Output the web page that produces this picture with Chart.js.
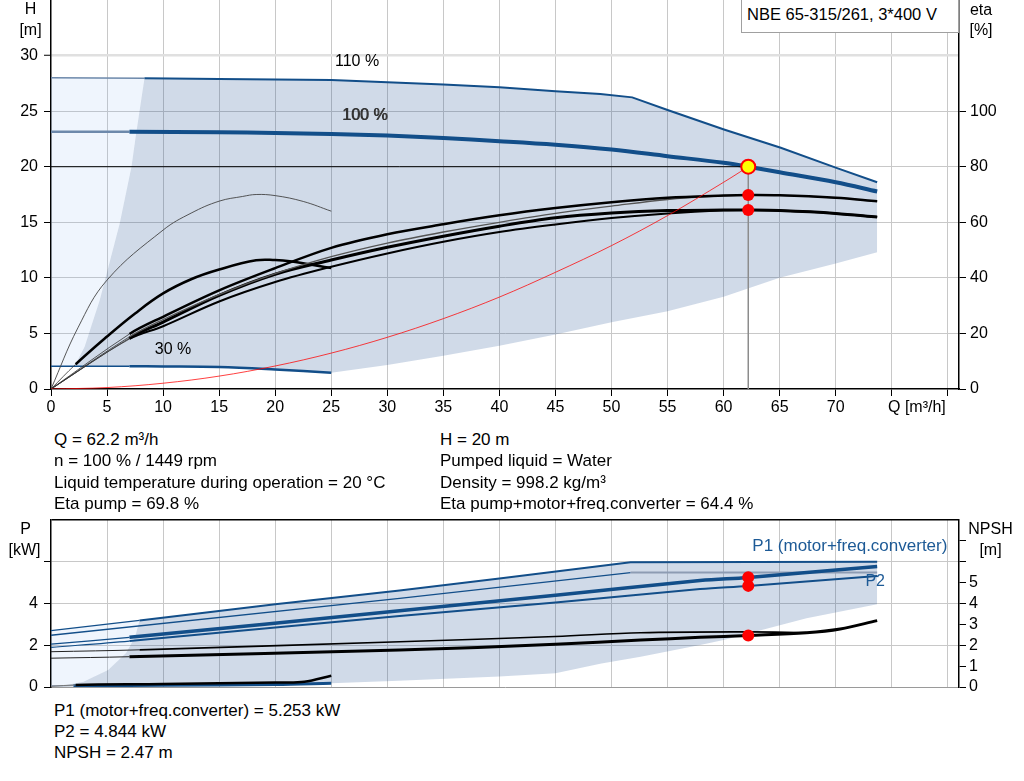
<!DOCTYPE html>
<html>
<head>
<meta charset="utf-8">
<script src="https://cdn.jsdelivr.net/npm/chart.js@4.4.1/dist/chart.umd.min.js"></script>
<style>
  body { margin: 0; background: #fff; width: 1024px; height: 781px; position: relative; overflow: hidden;
         font-family: 'Liberation Sans', Arial, sans-serif; color: #000; }
  canvas { position: absolute; left: 0; }
  #top { top: 0; }
  #bottom { top: 500px; }
  .t { position: absolute; white-space: nowrap; line-height: 20px; font-size: 16px; }
  .info { font-size: 17px; }
  #box { position: absolute; left: 741px; top: -1px; width: 218px; height: 34px; border: 1px solid #a0a0a0;
         background: #fff; box-sizing: border-box; }
</style>
</head>
<body>
<canvas id="top" width="1024" height="425"></canvas>
<canvas id="bottom" width="1024" height="200"></canvas>

<div id="box"></div>
<div class="t" style="left:747px;top:4px;font-size:16.5px">NBE 65-315/261, 3*400 V</div>

<div class="t" style="left:10px;top:-1px;width:41px;text-align:center">H</div>
<div class="t" style="left:10px;top:20px;width:41px;text-align:center">[m]</div>
<div class="t" style="left:961px;top:0px;width:40px;text-align:center">eta</div>
<div class="t" style="left:961px;top:20px;width:40px;text-align:center">[%]</div>
<div class="t" style="left:888px;top:397px">Q [m³/h]</div>

<div class="t" style="left:5px;top:519px;width:41px;text-align:center">P</div>
<div class="t" style="left:4px;top:540px;width:41px;text-align:center">[kW]</div>
<div class="t" style="left:965px;top:519px;width:51px;text-align:center">NPSH</div>
<div class="t" style="left:965px;top:540px;width:51px;text-align:center">[m]</div>

<div class="t info" style="left:54px;top:430px">Q = 62.2 m³/h</div>
<div class="t info" style="left:54px;top:451px">n = 100 % / 1449 rpm</div>
<div class="t info" style="left:54px;top:473px">Liquid temperature during operation = 20 °C</div>
<div class="t info" style="left:54px;top:494px">Eta pump = 69.8 %</div>
<div class="t info" style="left:440px;top:430px">H = 20 m</div>
<div class="t info" style="left:440px;top:451px">Pumped liquid = Water</div>
<div class="t info" style="left:440px;top:473px">Density = 998.2 kg/m³</div>
<div class="t info" style="left:440px;top:494px">Eta pump+motor+freq.converter = 64.4 %</div>

<div class="t info" style="left:54px;top:701px">P1 (motor+freq.converter) = 5.253 kW</div>
<div class="t info" style="left:54px;top:722px">P2 = 4.844 kW</div>
<div class="t info" style="left:54px;top:743px">NPSH = 2.47 m</div>

<script>
// ---- head curves, H [m] ----
const q110 = [0, 8.34, 15, 20, 25, 30, 35, 40, 45, 49, 51.85, 55, 60.1, 65.1, 70.06, 73.7];
const h110 = [28.0, 27.95, 27.9, 27.85, 27.8, 27.6, 27.4, 27.15, 26.8, 26.55, 26.24, 25.1, 23.33, 21.7, 19.9, 18.6];
const q100 = [0, 7, 15, 20, 25, 30, 35, 40, 45, 50, 55, 60, 62.2, 65, 70, 73.7];
const h100 = [23.15, 23.15, 23.1, 23.03, 22.95, 22.8, 22.58, 22.3, 21.98, 21.55, 20.95, 20.35, 20.0, 19.5, 18.6, 17.77];
const q30 = [0, 7, 10, 15, 20, 25];
const h30 = [2.05, 2.05, 2.03, 1.97, 1.75, 1.47];

// system curve
const qSys = [0, 5, 10, 15, 20, 25, 30, 35, 40, 45, 50, 55, 60, 62.2];
const hSys = [0, 0.13, 0.52, 1.16, 2.07, 3.23, 4.65, 6.33, 8.27, 10.5, 12.9, 15.6, 18.6, 20];

// operating range outline (H chart)
const qEnvLeft = [2.1, 3.0, 4.35, 6.13, 7.18, 7.6, 8.34];
const hEnvLeft = [2.05, 3.8, 8.0, 14.9, 20.0, 23.0, 27.95];
const qEnvLow = [25, 30, 35, 40, 45, 50, 55, 60, 65, 70, 73.7];
const hEnvLow = [1.47, 2.15, 3.0, 3.9, 4.9, 6.0, 7.0, 8.3, 10.0, 11.3, 12.3];

// efficiency curves, eta [%]
const qEta = [0, 7, 10, 15, 20, 25, 30, 35, 40, 45, 50, 55, 60, 62.2, 65, 70, 73.7];
const etaPump100 = [0, 19.8, 26.0, 35.5, 43.5, 50.8, 55.7, 59.3, 62.5, 65.1, 67.2, 68.8, 69.6, 69.8, 69.7, 68.8, 67.6];
const etaPump110 = [0, 18.8, 25.0, 34.0, 41.5, 47.6, 52.5, 56.5, 60.0, 63.2, 65.8, 68.2, 69.5, 69.8, 69.7, 68.8, 67.6];
const etaTotal100 = [0, 18.3, 24.1, 33.7, 41.3, 46.4, 51.0, 55.0, 58.6, 61.6, 63.3, 64.2, 64.4, 64.4, 64.2, 63.2, 61.9];
const etaTotal110 = [0, 18.0, 22.6, 31.5, 38.5, 44.0, 48.8, 53.0, 56.5, 59.2, 61.5, 63.2, 64.3, 64.4, 64.2, 63.2, 61.9];
const qEtaPump30 = [0, 2.4, 5, 10, 12.5, 15, 17.1, 18.3, 20, 22.5, 25];
const etaPump30 = [0, 22, 39.2, 57.2, 63.3, 67.6, 69.3, 70, 69.6, 67.5, 64];
const qEtaTotal30 = [0, 2.2, 5, 7.5, 10, 12.5, 15, 18.3, 20, 21.3, 25];
const etaTotal30 = [0, 8.9, 18.9, 27.2, 34.4, 39.5, 43.0, 46.3, 46.4, 46.0, 43.5];

// duty point
const qDuty = 62.2;
const hDuty = 20;
const etaPumpDuty = 69.8;
const etaTotalDuty = 64.4;
const p1Duty = 5.253;
const p2Duty = 4.844;
const npshDuty = 2.47;

// ---- power curves, P [kW] ----
const qP1_110 = [0, 7.9, 20, 31.1, 40, 51.7, 73.7];
const p1_110 = [2.70, 3.19, 3.96, 4.62, 5.2, 5.98, 6.0];
const qP2_110 = [0, 31.1, 51.7, 73.7];
const p2_110 = [2.48, 4.25, 5.48, 5.48];
const qP100 = [0, 7, 31.1, 45, 57.9, 62.2, 73.7];
const p1_100 = [2.05, 2.38, 3.65, 4.4, 5.10, 5.25, 5.77];
const p2_100 = [1.90, 2.2, 3.40, 4.05, 4.69, 4.84, 5.32];
const qP30 = [0, 2, 10, 20, 25];
const p30 = [0.05, 0.06, 0.08, 0.12, 0.18];

// NPSH [m]
const qNpsh100 = [0, 7, 31.1, 45, 52.6, 57.9, 62.2, 67.4, 70.4, 73.7];
const npsh100 = [1.38, 1.45, 1.77, 2.05, 2.25, 2.38, 2.47, 2.60, 2.78, 3.18];
const qNpsh110 = [0, 7.9, 31.1, 45, 52.6, 62.2, 67.4];
const npsh110 = [1.69, 1.78, 2.17, 2.42, 2.6, 2.64, 2.61];
const qNpsh30 = [0, 2.2, 10, 20, 22.6, 25];
const npsh30 = [0.03, 0.1, 0.14, 0.22, 0.25, 0.54];

// operating range outline (P chart)
const qPEnvLeft = [0.9, 2.9, 5.1, 6.7, 7.5, 7.9];
const pPEnvLeft = [0.05, 0.25, 0.82, 1.63, 2.4, 3.19];
const qPEnvLow = [25, 31, 40, 45, 49.1, 52.6, 57.9, 60, 67.4, 73.7];
const pPEnvLow = [0.18, 0.3, 0.5, 0.66, 1.13, 1.45, 2.01, 2.25, 3.29, 3.97];

const qMax = 81;

const BLUE = '#124e89';
const BLUE_THIN = '#6d89ab';
const RANGE = 'rgba(21, 71, 139, 0.2)';
const RANGE_LIGHT = 'rgba(130, 180, 240, 0.13)';
const NONE = 'rgba(0,0,0,0)';
const FONT = "'Liberation Sans', Arial, sans-serif";

Chart.defaults.font.family = FONT;
Chart.defaults.font.size = 16;
Chart.defaults.color = '#000';

const zip = (xs, ys) => xs.map((x, i) => ({ x: x, y: ys[i] }));

// a curve that is drawn thin up to q = thinTo and with its own width after that
function curve(xs, ys, axis, color, width, thinTo, thinWidth, thinColor, tension) {
  return {
    data: zip(xs, ys),
    yAxisID: axis,
    showLine: true,
    pointRadius: 0,
    borderColor: color,
    borderWidth: width,
    fill: false,
    tension: tension === undefined ? 0.35 : tension,
    segment: {
      borderWidth: c => (xs[c.p1DataIndex] <= thinTo ? thinWidth : undefined),
      borderColor: c => (xs[c.p1DataIndex] <= thinTo ? thinColor : undefined)
    }
  };
}

// invisible outline used only as a fill boundary
function outline(points, axis, fillColor) {
  return {
    data: points,
    yAxisID: axis,
    showLine: true,
    pointRadius: 0,
    borderWidth: 0,
    borderColor: NONE,
    backgroundColor: fillColor || NONE,
    fill: fillColor ? '+1' : false,
    tension: 0
  };
}

function dots(points, axis, radius, fillColor, borderColor, borderWidth) {
  return {
    data: points,
    yAxisID: axis,
    showLine: false,
    pointRadius: radius,
    pointBackgroundColor: fillColor,
    pointBorderColor: borderColor,
    pointBorderWidth: borderWidth
  };
}

function labelPlugin(items) {
  return {
    id: 'curveLabels',
    afterDatasetsDraw(chart) {
      const ctx = chart.ctx;
      ctx.save();
      ctx.textBaseline = 'middle';
      ctx.textAlign = 'left';
      items.forEach(it => {
        const px = chart.scales.x.getPixelForValue(it.x);
        const py = chart.scales[it.axis].getPixelForValue(it.y);
        ctx.font = (it.size || 16) + 'px ' + FONT;
        ctx.fillStyle = it.color || '#000';
        ctx.fillText(it.text, px, py);
        if (it.bold) ctx.fillText(it.text, px + 0.8, py);
      });
      ctx.restore();
    }
  };
}

function qAxis(main, height) {
  return {
    type: 'linear',
    min: 0,
    max: qMax,
    ticks: {
      stepSize: 5, includeBounds: false, display: main, padding: 2, maxRotation: 0, autoSkip: false,
      callback: v => (v <= 70 ? String(v) : '')
    },
    grid: {
      color: c => (c.tick && c.tick.value === 0 ? NONE : '#c8c8c8'),
      lineWidth: 1, tickLength: 7, tickWidth: 1, tickColor: '#000', drawTicks: main
    },
    border: { color: main ? '#000' : '#9a9a9a', width: main ? 1.5 : 1 },
    afterFit: s => { s.height = height; }
  };
}

// ---------------- top chart: H / eta ----------------
const envTop = zip(qEnvLeft, hEnvLeft).concat(zip(q110, h110).slice(2));
const envBottom = [{ x: qEnvLeft[0], y: hEnvLeft[0] }]
  .concat(zip(q30, h30).filter(p => p.x > qEnvLeft[0]))
  .concat(zip(qEnvLow, hEnvLow).slice(1));
const lightTop = zip(q110, h110).slice(0, 2);
const lightBottom = [{ x: 0, y: h30[0] }].concat(zip(qEnvLeft, hEnvLeft));

new Chart(document.getElementById('top'), {
  type: 'scatter',
  data: {
    datasets: [
      dots([{ x: qDuty, y: hDuty }], 'y', 7, '#ffff00', '#ff0000', 2),
      dots([{ x: qDuty, y: etaPumpDuty }, { x: qDuty, y: etaTotalDuty }], 'yEta', 6, '#ff0000', '#ff0000', 0),
      curve(qSys, hSys, 'y', 'rgba(255,0,0,0.75)', 1, -1, 1, null),
      curve([0, qDuty], [hDuty, hDuty], 'y', '#000', 1, -1, 1, null, 0),
      curve([qDuty, qDuty], [0, hDuty], 'y', '#8c8c8c', 1.5, -1, 1, null, 0),
      curve(qEta, etaPump100, 'yEta', '#000', 2.5, 7, 0.8, '#333'),
      curve(qEta, etaPump110, 'yEta', '#555', 1.3, 7, 0.8, '#333'),
      curve(qEta, etaTotal100, 'yEta', '#000', 3, 7, 0.8, '#333'),
      curve(qEta, etaTotal110, 'yEta', '#000', 2, 7, 0.8, '#333'),
      curve(qEtaPump30, etaPump30, 'yEta', '#444', 0.9, -1, 0.9, null, 0.4),
      curve(qEtaTotal30, etaTotal30, 'yEta', '#000', 2.5, 2.2, 0.8, '#333', 0.4),
      curve(q110, h110, 'y', BLUE, 2, 8.34, 1.5, BLUE_THIN, 0),
      curve(q100, h100, 'y', BLUE, 4, 7, 2.5, BLUE_THIN),
      curve(q30, h30, 'y', BLUE, 2.5, 7, 1.6, BLUE),
      outline(envTop, 'y', RANGE),
      outline(envBottom, 'y'),
      outline(lightTop, 'y', RANGE_LIGHT),
      outline(lightBottom, 'y')
    ]
  },
  options: {
    animation: false,
    responsive: false,
    devicePixelRatio: 1,
    layout: { padding: 0, autoPadding: false },
    plugins: {
      legend: { display: false },
      tooltip: { enabled: false },
      filler: { drawTime: 'beforeDatasetsDraw' }
    },
    scales: {
      x: qAxis(true, 36),
      y: {
        position: 'left', min: 0, max: 35,
        ticks: { stepSize: 5, padding: 6, autoSkip: false, callback: v => (v <= 30 ? String(v) : '') },
        grid: {
          color: c => (c.tick.value === 30 ? '#e0e0e0' : (c.tick.value === 0 || c.tick.value === 35 ? NONE : '#c8c8c8')),
          lineWidth: c => (c.tick.value === 30 ? 2.5 : 1),
          tickLength: 7, tickWidth: 1,
          tickColor: c => (c.tick.value > 30 ? NONE : '#000')
        },
        border: { color: '#000', width: 1.5 },
        afterFit: s => { s.width = 51; s.paddingTop = 0; s.paddingBottom = 0; }
      },
      yEta: {
        position: 'right', min: 0, max: 140,
        ticks: { stepSize: 20, padding: 4, autoSkip: false, callback: v => (v <= 100 ? String(v) : '') },
        grid: {
          drawOnChartArea: false, tickLength: 7, tickWidth: 1,
          tickColor: c => (c.tick.value > 100 ? NONE : '#000')
        },
        border: { color: '#000', width: 1.5 },
        afterFit: s => { s.width = 65; s.paddingTop = 0; s.paddingBottom = 0; }
      }
    }
  },
  plugins: [labelPlugin([
    { text: '110 %', x: 25.33, y: 29.46, axis: 'y' },
    { text: '100 %', x: 25.96, y: 24.59, axis: 'y', color: '#333', bold: true },
    { text: '30 %', x: 9.26, y: 3.51, axis: 'y' }
  ])]
});

// ---------------- bottom chart: P / NPSH ----------------
const pEnvTop = zip(qPEnvLeft, pPEnvLeft).concat(zip(qP1_110, p1_110).slice(2));
const pEnvBottom = [{ x: qPEnvLeft[0], y: pPEnvLeft[0] }]
  .concat(zip(qP30, p30).filter(p => p.x > qPEnvLeft[0]))
  .concat(zip(qPEnvLow, pPEnvLow).slice(1));
const pLightTop = zip(qP1_110, p1_110).slice(0, 2);
const pLightBottom = [{ x: 0, y: pPEnvLeft[0] }].concat(zip(qPEnvLeft, pPEnvLeft));

new Chart(document.getElementById('bottom'), {
  type: 'scatter',
  data: {
    datasets: [
      dots([{ x: qDuty, y: p1Duty }, { x: qDuty, y: p2Duty }], 'yP', 6, '#ff0000', '#ff0000', 0),
      dots([{ x: qDuty, y: npshDuty }], 'yN', 6, '#ff0000', '#ff0000', 0),
      curve(qNpsh100, npsh100, 'yN', '#000', 3, 7, 1, '#222'),
      curve(qNpsh110, npsh110, 'yN', '#000', 1.6, 7.9, 1, '#222'),
      curve(qNpsh30, npsh30, 'yN', '#000', 2.5, 2.2, 1, '#777'),
      curve(qP100, p1_100, 'yP', BLUE, 3.5, 7, 1.2, BLUE),
      curve(qP100, p2_100, 'yP', BLUE, 2, 7, 1.2, BLUE),
      curve(qP1_110, p1_110, 'yP', BLUE, 2, 7.9, 1.2, BLUE, 0),
      {
        data: zip(qP2_110, p2_110), yAxisID: 'yP', showLine: true, pointRadius: 0, tension: 0,
        borderColor: BLUE, borderWidth: 1.3,
        segment: {
          borderColor: c => (qP2_110[c.p0DataIndex] >= 51.7 ? '#8d9cb3' : undefined),
          borderWidth: c => (qP2_110[c.p0DataIndex] >= 51.7 ? 2 : undefined)
        }
      },
      curve(qP30, p30, 'yP', BLUE, 3, 2, 1.2, '#7d8fa8'),
      outline(pEnvTop, 'yP', RANGE),
      outline(pEnvBottom, 'yP'),
      outline(pLightTop, 'yP', RANGE_LIGHT),
      outline(pLightBottom, 'yP')
    ]
  },
  options: {
    animation: false,
    responsive: false,
    devicePixelRatio: 1,
    layout: { padding: { top: 20, bottom: 0, left: 0, right: 0 }, autoPadding: false },
    plugins: {
      legend: { display: false },
      tooltip: { enabled: false },
      filler: { drawTime: 'beforeDatasetsDraw' }
    },
    scales: {
      x: qAxis(false, 13),
      yP: {
        position: 'left', min: 0, max: 8,
        ticks: { stepSize: 2, padding: 6, autoSkip: false, callback: v => (v <= 4 ? String(v) : '') },
        grid: {
          color: c => (c.tick.value === 8 ? '#000' : (c.tick.value === 0 ? NONE : '#c8c8c8')),
          lineWidth: c => (c.tick.value === 8 ? 1.5 : 1),
          tickLength: 7, tickWidth: 1,
          tickColor: c => (c.tick.value >= 8 ? NONE : '#000')
        },
        border: { color: '#000', width: 1.5 },
        afterFit: s => { s.width = 51; s.paddingTop = 0; s.paddingBottom = 0; }
      },
      yN: {
        position: 'right', min: 0, max: 8,
        ticks: { stepSize: 1, padding: 3, autoSkip: false, callback: v => (v <= 5 ? String(v) : '') },
        grid: {
          drawOnChartArea: false, tickLength: 7, tickWidth: 1,
          tickColor: c => (c.tick.value >= 8 ? NONE : '#000')
        },
        border: { color: '#000', width: 1.5 },
        afterFit: s => { s.width = 65; s.paddingTop = 0; s.paddingBottom = 0; }
      }
    }
  },
  plugins: [labelPlugin([
    { text: 'P1 (motor+freq.converter)', x: 62.56, y: 6.76, axis: 'yP', color: '#1d5a96', size: 17 },
    { text: 'P2', x: 72.65, y: 5.04, axis: 'yP', color: '#1d5a96', size: 16 }
  ])]
});
</script>
</body>
</html>
